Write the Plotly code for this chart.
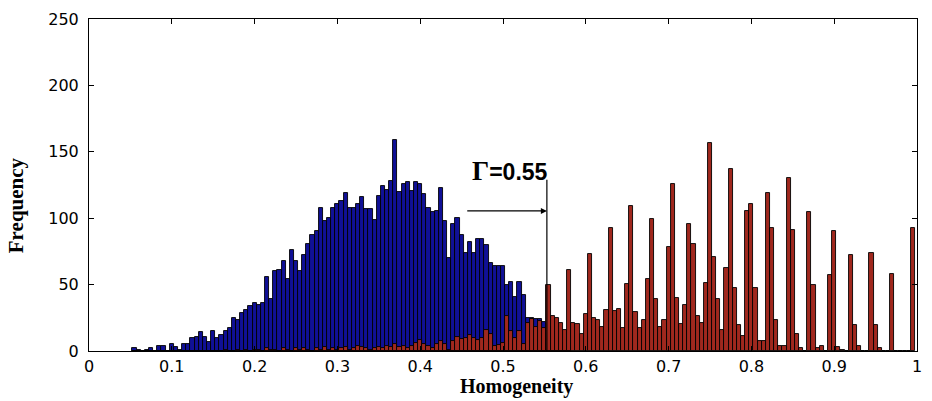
import numpy as np
import plotly.graph_objects as go

# Histogram bins: centres start at 0.055, width 0.005
bin_start = 0.055
bin_width = 0.005

# Blue histogram (below threshold)
blue_counts = [
    2.5, 1, 0, 1, 2.5, 0, 4, 4, 0, 5,
    3, 1, 5, 5, 9.5, 10.5, 14, 10.5, 7, 15,
    10, 12, 15, 17.5, 24.5, 23, 28.5, 31, 34, 36,
    35, 36, 55.5, 39, 60, 61, 67.5, 54.5, 76, 68,
    60.5, 72.5, 80.5, 87.5, 90.5, 108, 98, 100, 108, 111,
    113, 119, 107.5, 108, 111, 116, 107, 107, 99, 117,
    124, 121, 128, 159, 120, 125.5, 127, 120.5, 127, 125.5,
    118, 108, 105, 105.5, 123, 98, 70, 96, 100, 87,
    74, 82, 74, 84, 84, 80, 66, 64, 64, 64,
    50, 52, 41, 52, 42, 25, 25, 24, 24, 22,
    18, 14, 10, 6, 4, 2,
]

# Red histogram (above threshold)
red_counts = [
    0, 0, 0, 0, 0, 0, 0, 0, 0, 0,
    0, 0, 0, 0, 0, 0, 0, 0, 0, 0,
    0, 0, 1, 0, 0, 1, 0, 1, 0, 1,
    1, 0, 2, 1, 1, 0, 2, 1, 0, 2,
    1, 2, 1, 0, 2, 1, 3, 1, 2, 1,
    2, 3, 1, 2, 4, 3, 2, 1, 2, 3,
    2, 4, 3, 5, 3, 4, 2, 4, 6, 8,
    5, 4, 2.5, 5, 7.5, 5, 1, 7.5, 10.5, 9,
    10, 12, 10, 8, 10, 16, 12.5, 4, 4.5, 6,
    26, 15, 10, 15, 5, 21, 24, 18, 22.5, 17.5,
    49.5, 26, 25, 21, 16, 61, 21, 20.5, 12.5, 28,
    73, 25, 23, 18, 31, 92.5, 30, 32, 17.5, 50.5,
    109.5, 29, 17.5, 23, 54, 99.5, 39, 18, 23, 78,
    125.5, 40, 20.5, 34.5, 96, 80.5, 26, 21, 51, 157,
    70.5, 39, 15.5, 62.5, 137, 47.5, 19.5, 11, 105.5, 110.5,
    47.5, 7.5, 7.5, 119, 93, 23, 4, 4, 130.5, 91,
    13, 2.5, 0, 104.5, 49.5, 2, 4, 0, 57, 90.5,
    3, 1, 0, 72.5, 19.5, 4, 0, 0, 74, 19.5,
    2.5, 0, 0, 58, 0, 0, 0, 0, 93,
]

x_ticks = [0, 0.1, 0.2, 0.3, 0.4, 0.5, 0.6, 0.7, 0.8, 0.9, 1]
x_tick_text = ["0", "0.1", "0.2", "0.3", "0.4", "0.5", "0.6", "0.7", "0.8", "0.9", "1"]
y_ticks = [0, 50, 100, 150, 200, 250]

threshold = 0.553
threshold_top = 129
arrow_y = 105.5
arrow_start = 0.455

blue_x = bin_start + bin_width * np.arange(len(blue_counts))
red_x = bin_start + bin_width * np.arange(len(red_counts))

fig = go.Figure()
fig.add_trace(go.Bar(
    x=blue_x, y=blue_counts, width=bin_width,
    marker=dict(color="rgb(16,16,150)", line=dict(color="black", width=0.9)),
    showlegend=False,
))
fig.add_trace(go.Bar(
    x=red_x, y=red_counts, width=bin_width,
    marker=dict(color="rgb(160,40,30)", line=dict(color="black", width=0.9)),
    showlegend=False,
))

axis_font = dict(family="DejaVu Sans", size=16, color="black")

fig.update_layout(
    width=932, height=401,
    margin=dict(l=89, r=10, t=15, b=50),
    paper_bgcolor="white", plot_bgcolor="white",
    barmode="overlay", bargap=0,
    xaxis=dict(
        range=[0, 1], tickmode="array", tickvals=x_ticks, ticktext=x_tick_text,
        ticks="inside", ticklen=5, tickcolor="black", showline=True, linecolor="black",
        linewidth=1, mirror="ticks", showgrid=False, zeroline=False,
        tickfont=axis_font, ticklabelstandoff=1,
    ),
    yaxis=dict(
        range=[0, 250], tickmode="array", tickvals=y_ticks,
        ticks="inside", ticklen=5, tickcolor="black", showline=True, linecolor="black",
        linewidth=1, mirror="ticks", showgrid=False, zeroline=False,
        tickfont=axis_font, ticklabelstandoff=6,
    ),
)

# threshold line
fig.add_shape(type="line", x0=threshold, x1=threshold, y0=0, y1=threshold_top,
              xref="x", yref="y", line=dict(color="black", width=1.2))
# arrow
fig.add_annotation(x=threshold, y=arrow_y, ax=arrow_start, ay=arrow_y,
                   xref="x", yref="y", axref="x", ayref="y", text="",
                   showarrow=True, arrowhead=2, arrowsize=1, arrowwidth=1.2,
                   arrowcolor="black")
# label
fig.add_annotation(
    x=513, y=169, xref="paper", yref="paper", showarrow=False,
    text="<span style='font-family:Liberation Serif;font-size:27px'><b>Γ</b></span><b>=0.55</b>",
    font=dict(family="Liberation Sans", size=23, color="black"),
)
# axis titles
fig.add_annotation(
    x=519, y=387, xref="paper", yref="paper", showarrow=False,
    text="<b>Homogeneity</b>",
    font=dict(family="Liberation Serif", size=20, color="black"),
)
fig.add_annotation(
    x=15, y=203, xref="paper", yref="paper", showarrow=False, textangle=-90,
    text="<b>Frequency</b>",
    font=dict(family="Liberation Serif", size=21, color="black"),
)

# convert pixel positions of free annotations into paper coords
pw = 932 - 89 - 10
ph = 401 - 15 - 50
for ann in fig.layout.annotations:
    if ann.xref == "paper":
        ann.x = (ann.x - 89) / pw
        ann.y = 1 - (ann.y - 15) / ph
        ann.xanchor = "center"
        ann.yanchor = "middle"

fig.write_html("out.html")
